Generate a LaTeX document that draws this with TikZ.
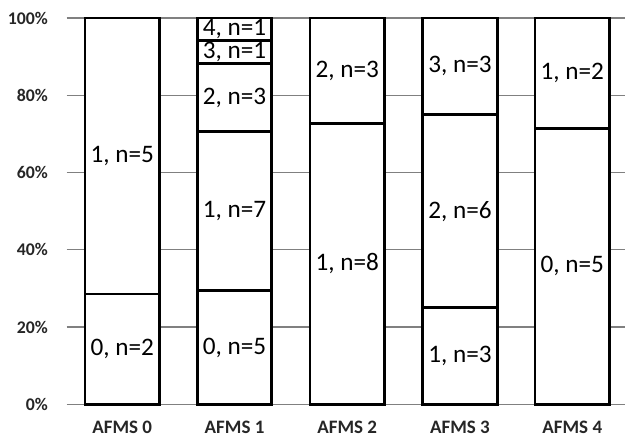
\documentclass[tikz,border=0pt]{standalone}
\usepackage{fontspec}
\setmainfont{Carlito}
\newcommand\barseg[5]{%
  \draw[seg] (#2,{35.7+3.863*#3}) rectangle ({#2+74.5},{35.7+3.863*#4});
  \node[lab] (#1) at ({#2+37.25},{35.7+3.863*(#3+#4)/2}) {#5};}
\begin{document}
\begin{tikzpicture}[x=1pt,y=1pt,
  grid/.style={draw=black!50, line width=1.2pt},
  seg/.style={draw=black, fill=white, line width=2.8pt},
  lab/.style={font=\fontsize{25.2}{28}\selectfont, inner sep=0pt},
  ticklab/.style={font=\fontsize{17.8}{20}\selectfont\bfseries, text=black!85, anchor=east, inner sep=0pt},
  catlab/.style={font=\fontsize{19}{21}\selectfont\bfseries, text=black!85, inner sep=0pt}]
\useasboundingbox (0,0) rectangle (625,440);
\foreach \v/\n in {0/t0,20/t20,40/t40,60/t60,80/t80,100/t100}{
  \draw[grid] (66.7,{35.7+3.863*\v}) -- (625,{35.7+3.863*\v});
  \node[ticklab] (\n) at (48,{35.7+3.863*\v}) {\v\%};
}
% AFMS 0
\barseg{a0s0}{85}{0}{28.571}{0, n=2}
\barseg{a0s1}{85}{28.571}{100}{1, n=5}
% AFMS 1
\barseg{a1s0}{197.3}{0}{29.412}{0, n=5}
\barseg{a1s1}{197.3}{29.412}{70.588}{1, n=7}
\barseg{a1s2}{197.3}{70.588}{88.235}{2, n=3}
\barseg{a1s3}{197.3}{88.235}{94.118}{3, n=1}
\barseg{a1s4}{197.3}{94.118}{100}{4, n=1}
% AFMS 2
\barseg{a2s1}{310}{0}{72.727}{1, n=8}
\barseg{a2s2}{310}{72.727}{100}{2, n=3}
% AFMS 3
\barseg{a3s1}{422.7}{0}{25}{1, n=3}
\barseg{a3s2}{422.7}{25}{75}{2, n=6}
\barseg{a3s3}{422.7}{75}{100}{3, n=3}
% AFMS 4
\barseg{a4s0}{535}{0}{71.429}{0, n=5}
\barseg{a4s1}{535}{71.429}{100}{1, n=2}
% categories
\node[catlab] (c0) at (122.25,12.7) {AFMS 0};
\node[catlab] (c1) at (234.55,12.7) {AFMS 1};
\node[catlab] (c2) at (347.25,12.7) {AFMS 2};
\node[catlab] (c3) at (459.95,12.7) {AFMS 3};
\node[catlab] (c4) at (572.25,12.7) {AFMS 4};
\end{tikzpicture}
\end{document}
